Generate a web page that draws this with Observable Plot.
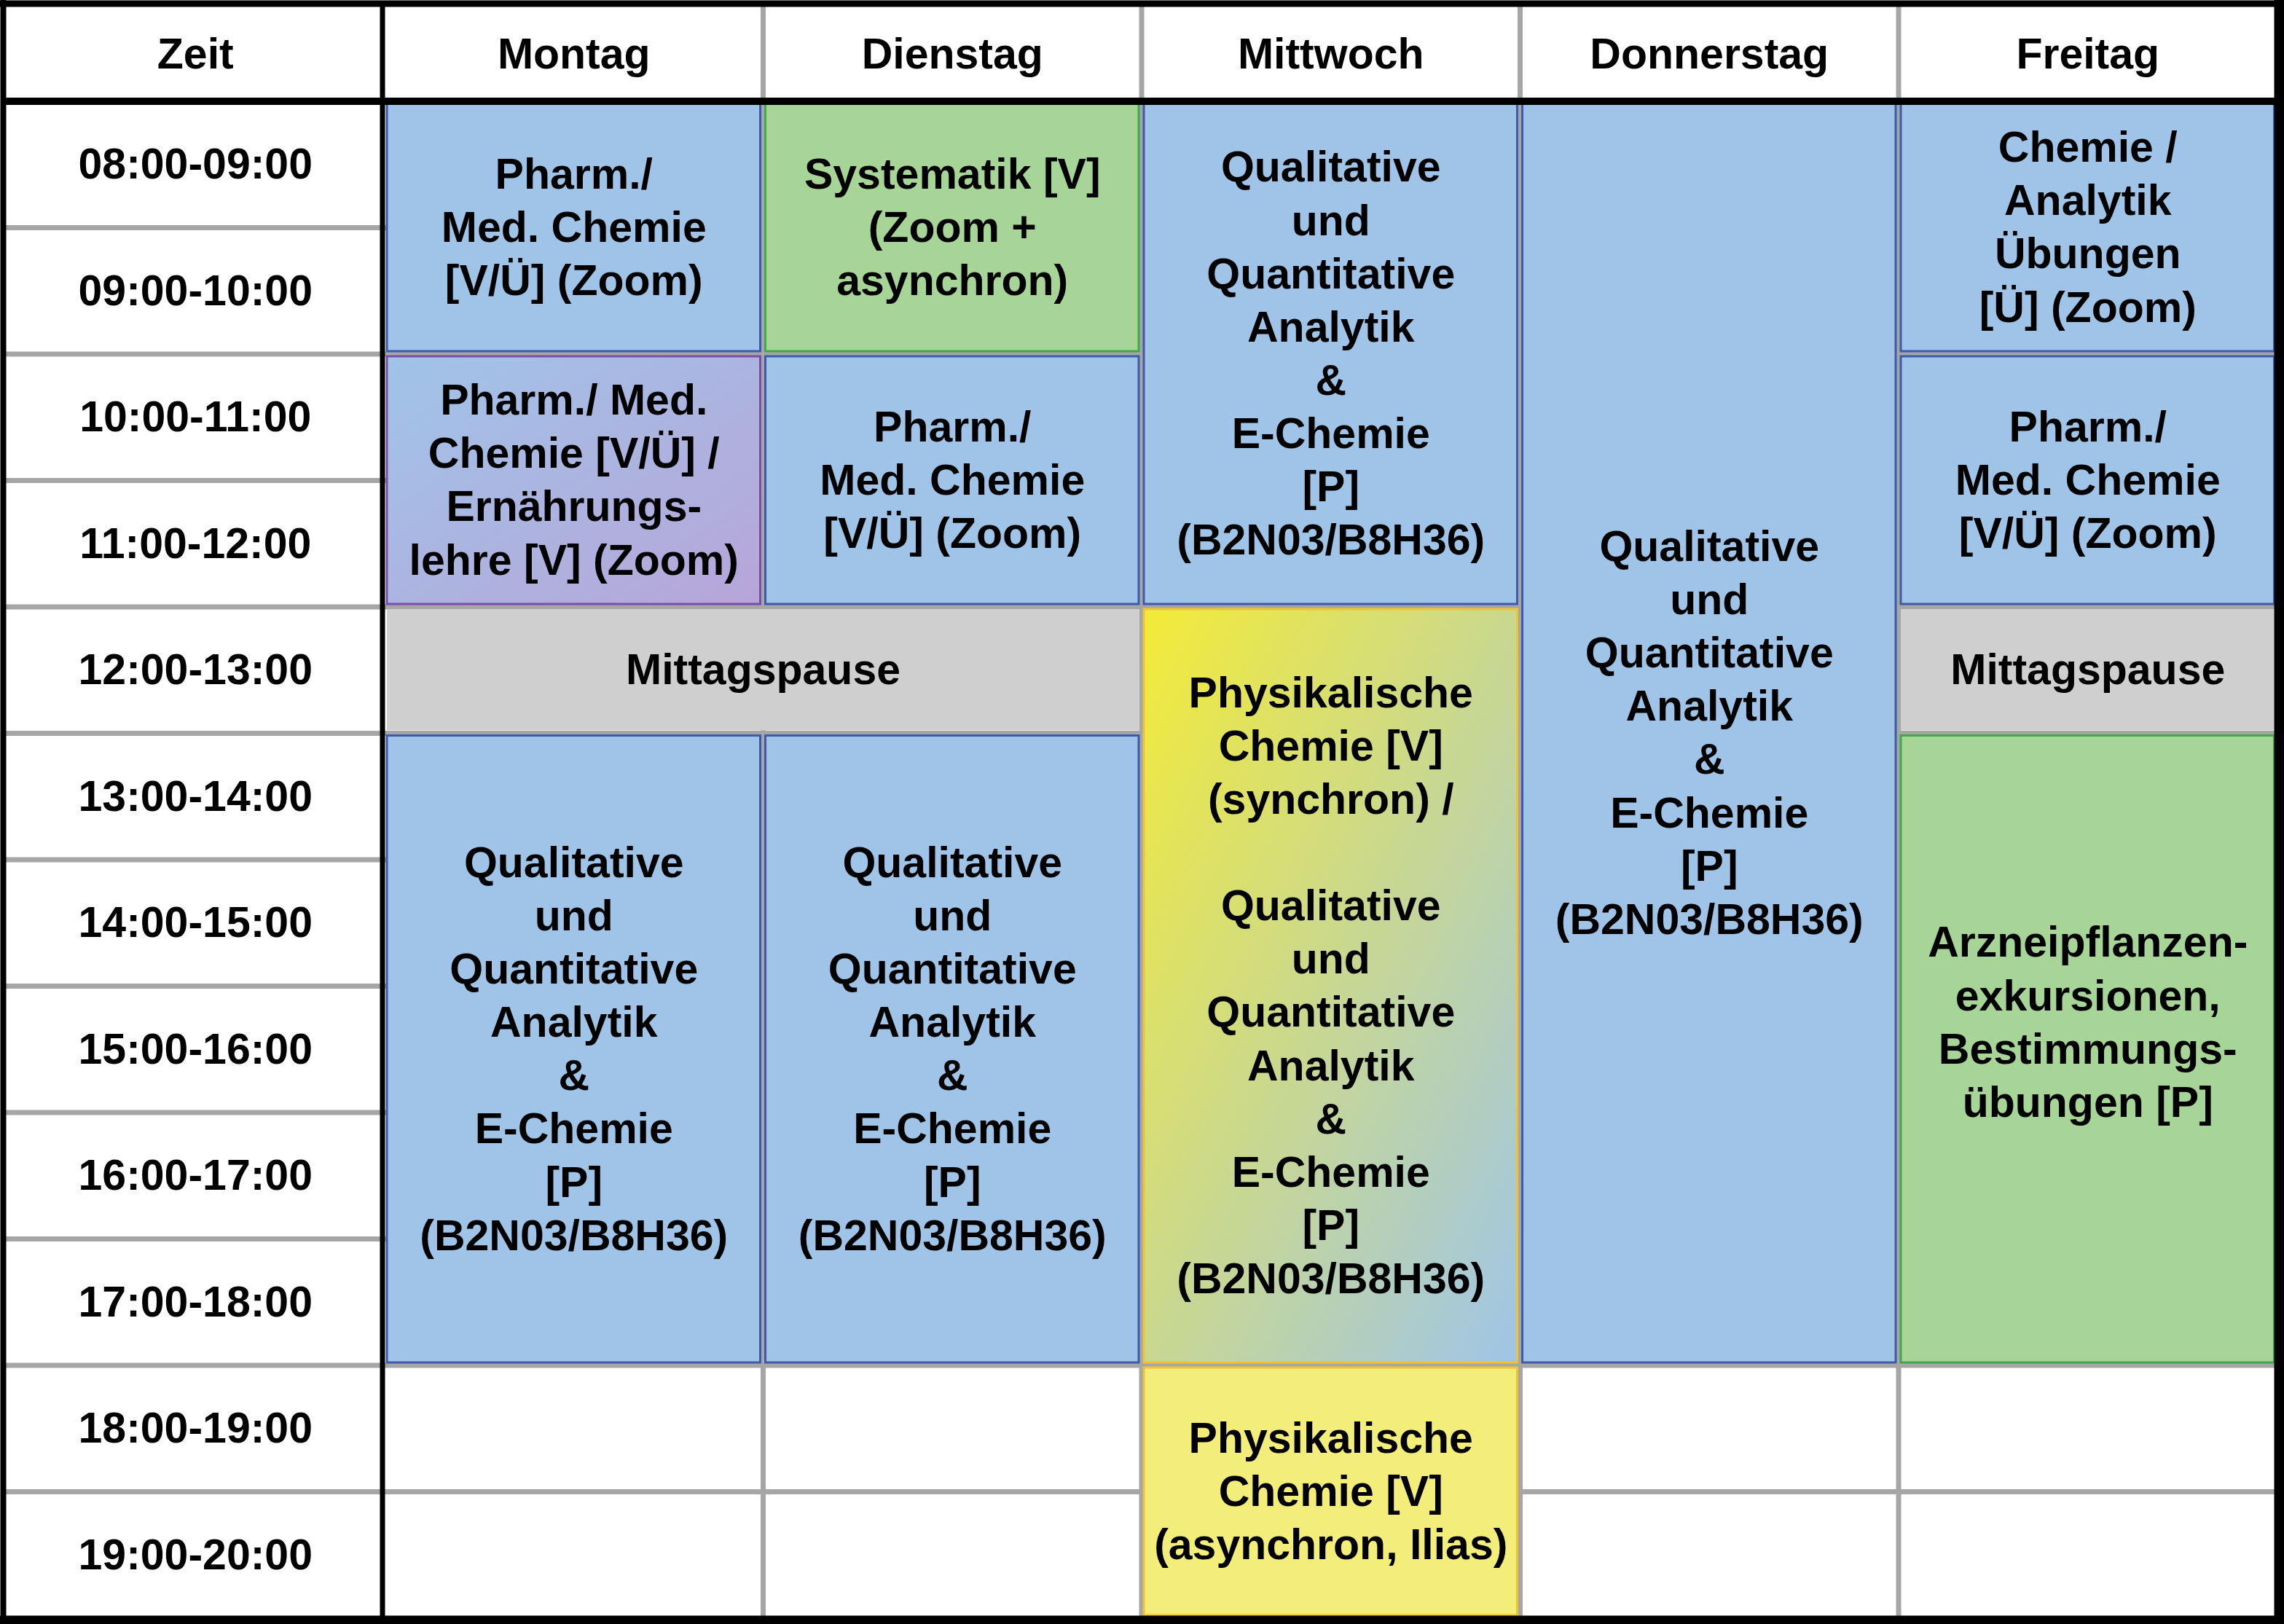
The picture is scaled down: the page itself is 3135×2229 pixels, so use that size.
<!DOCTYPE html>
<html>
<head>
<meta charset="utf-8">
<script src="https://cdn.jsdelivr.net/npm/d3@7"></script>
<script src="https://cdn.jsdelivr.net/npm/@observablehq/plot@0.6"></script>
<style>
  html, body { margin: 0; padding: 0; background: #ffffff; }
  #chart svg { display: block; }
</style>
</head>
<body>
<div id="chart"></div>
<script>
// ---------- data ----------
const kopfZeit = "Zeit";
const tage = ["Montag", "Dienstag", "Mittwoch", "Donnerstag", "Freitag"];
const zeitfenster = [
  "08:00-09:00", "09:00-10:00", "10:00-11:00", "11:00-12:00",
  "12:00-13:00", "13:00-14:00", "14:00-15:00", "15:00-16:00",
  "16:00-17:00", "17:00-18:00", "18:00-19:00", "19:00-20:00"
];
const stundenBeginn = [8, 9, 10, 11, 12, 13, 14, 15, 16, 17, 18, 19];
const stundenEnde = 20;

const textPharm = "Pharm./\nMed. Chemie\n[V/Ü] (Zoom)";
const textAnalytik = "Qualitative\nund\nQuantitative\nAnalytik\n&\nE-Chemie\n[P]\n(B2N03/B8H36)";

const kursTag = ["Montag", "Montag", "Montag", "Montag",
                 "Dienstag", "Dienstag", "Dienstag",
                 "Mittwoch", "Mittwoch", "Mittwoch",
                 "Donnerstag",
                 "Freitag", "Freitag", "Freitag", "Freitag"];
const kursTage = [1, 1, 2, 1,  1, 1, 1,  1, 1, 1,  1,  1, 1, 1, 1];
const kursVon  = [8, 10, 12, 13,  8, 10, 13,  8, 12, 18,  8,  8, 10, 12, 13];
const kursBis  = [10, 12, 13, 18,  10, 12, 18,  12, 18, 20,  18,  10, 12, 13, 18];
const kursArt  = ["blau", "lila", "pause", "blau",
                  "gruen", "blau", "blau",
                  "blau", "gelbblau", "gelb",
                  "blau",
                  "blau", "blau", "pause", "gruen"];
const kursText = [
  textPharm,
  "Pharm./ Med.\nChemie [V/Ü] /\nErnährungs-\nlehre [V] (Zoom)",
  "Mittagspause",
  textAnalytik,
  "Systematik [V]\n(Zoom +\nasynchron)",
  textPharm,
  textAnalytik,
  textAnalytik,
  "Physikalische\nChemie [V]\n(synchron) /\n\n" + textAnalytik,
  "Physikalische\nChemie [V]\n(asynchron, Ilias)",
  textAnalytik,
  "Chemie /\nAnalytik\nÜbungen\n[Ü] (Zoom)",
  textPharm,
  "Mittagspause",
  "Arzneipflanzen-\nexkursionen,\nBestimmungs-\nübungen [P]\n"
];

// ---------- styles ----------
const stil = {
  blau:     { fill: "#a0c4e8", stroke: "#3f5aa8" },
  gruen:    { fill: "#a7d597", stroke: "#41a84b" },
  lila:     { fill: "url(#verlaufLila)", stroke: "#7a4ea8" },
  pause:    { fill: "#cfcfcf", stroke: "none" },
  gelbblau: { fill: "url(#verlaufGelbBlau)", stroke: "#f1c232" },
  gelb:     { fill: "#f3ee7a", stroke: "#f1c232" }
};
const gitterGrau = "#a6a6a6";
const schrift = "'Liberation Sans', Arial, Helvetica, sans-serif";

// ---------- table built from arrays ----------
const kurse = kursTag.map((t, i) => ({
  spalte: tage.indexOf(t) + 1,
  breite: kursTage[i],
  von: kursVon[i],
  bis: kursBis[i],
  art: kursArt[i],
  text: kursText[i]
}));

const yKopf = stundenBeginn[0] - 0.7464; // header band above first hour
const nSpalten = tage.length + 1;

const textOpts = {
  fontSize: 59,
  fontWeight: "bold",
  fontFamily: schrift,
  fill: "#000000",
  lineHeight: 1.24,
  dy: -4
};

const blockMarks = Object.keys(stil).map(art =>
  Plot.rect(kurse.filter(d => d.art === art), {
    x1: d => d.spalte,
    x2: d => d.spalte + d.breite,
    y1: "von",
    y2: "bis",
    inset: 3.5,
    fill: stil[art].fill,
    stroke: stil[art].stroke,
    strokeWidth: 3
  })
);

const chart = Plot.plot({
  width: 3135,
  height: 2229,
  margin: 0,
  style: { background: "#ffffff", fontFamily: schrift },
  x: { type: "linear", domain: [0, nSpalten], range: [8, 3125], axis: null },
  y: { type: "linear", domain: [yKopf, stundenEnde], range: [9, 2220.5], axis: null },
  marks: [
    // grey grid
    Plot.ruleY(stundenBeginn.slice(1), { x1: 0, x2: nSpalten, stroke: gitterGrau, strokeWidth: 7 }),
    Plot.ruleX(tage.slice(1).map((d, i) => i + 2), { y1: yKopf, y2: stundenEnde, stroke: gitterGrau, strokeWidth: 7 }),
    // course blocks
    ...blockMarks,
    // block labels
    Plot.text(kurse, {
      x: d => d.spalte + d.breite / 2,
      y: d => (d.von + d.bis) / 2,
      text: "text",
      ...textOpts
    }),
    // header labels
    Plot.text([kopfZeit, ...tage], {
      x: (d, i) => i + 0.5,
      y: () => (yKopf + stundenBeginn[0]) / 2,
      text: d => d,
      ...textOpts
    }),
    // time slot labels
    Plot.text(zeitfenster, {
      x: () => 0.5,
      y: (d, i) => stundenBeginn[i] + 0.5,
      text: d => d,
      ...textOpts
    }),
    // black structure lines
    Plot.ruleY([stundenBeginn[0]], { x1: 0, x2: nSpalten, stroke: "#000", strokeWidth: 10 }),
    Plot.ruleX([1], { y1: yKopf, y2: stundenEnde, stroke: "#000", strokeWidth: 7, dx: -3 }),
    // outer frame
    Plot.ruleX([0], { y1: yKopf, y2: stundenEnde, stroke: "#000", strokeWidth: 8, dx: -4, insetTop: -20, insetBottom: -20 }),
    Plot.ruleX([nSpalten], { y1: yKopf, y2: stundenEnde, stroke: "#000", strokeWidth: 14, dx: 3, insetTop: -20, insetBottom: -20 }),
    Plot.ruleY([yKopf], { x1: 0, x2: nSpalten, stroke: "#000", strokeWidth: 9, dy: -4.5, insetLeft: -20, insetRight: -20 }),
    Plot.ruleY([stundenEnde], { x1: 0, x2: nSpalten, stroke: "#000", strokeWidth: 12, dy: 2.5, insetLeft: -20, insetRight: -20 })
  ]
});

// gradients used by the mixed blocks
const defs = d3.select(chart).insert("defs", ":first-child");
const lila = defs.append("linearGradient").attr("id", "verlaufLila")
  .attr("x1", 0).attr("y1", 0).attr("x2", 1).attr("y2", 1);
lila.append("stop").attr("offset", "0%").attr("stop-color", "#a0c4e8");
lila.append("stop").attr("offset", "100%").attr("stop-color", "#b7a5d8");
const gb = defs.append("linearGradient").attr("id", "verlaufGelbBlau")
  .attr("x1", 0).attr("y1", 0).attr("x2", 1).attr("y2", 1);
gb.append("stop").attr("offset", "0%").attr("stop-color", "#f3eb38");
gb.append("stop").attr("offset", "100%").attr("stop-color", "#9fc5e8");

document.getElementById("chart").appendChild(chart);
</script>
</body>
</html>
